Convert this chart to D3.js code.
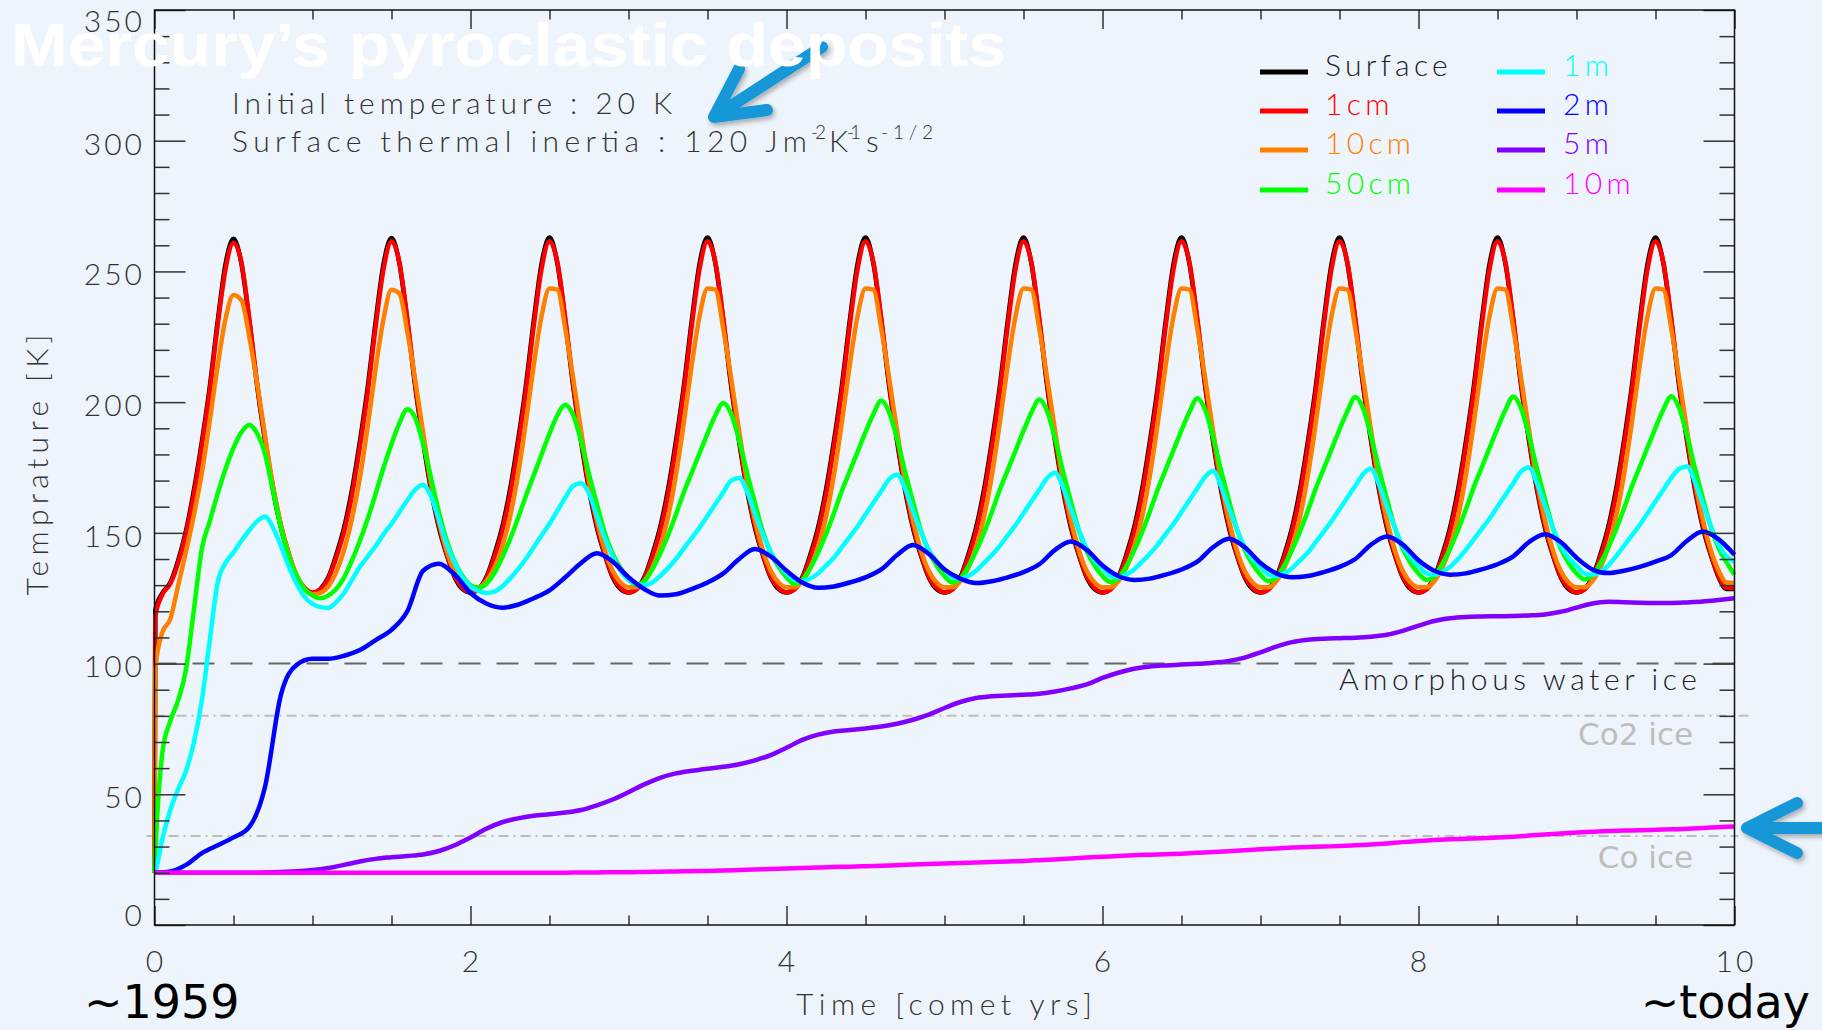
<!DOCTYPE html>
<html>
<head>
<meta charset="utf-8">
<script src="https://cdn.jsdelivr.net/npm/d3@7"></script>
<style>
html, body { margin: 0; padding: 0; background: #eef4fb; }
svg { display: block; }
.thin { font-family: Lato, "DejaVu Sans", sans-serif; font-weight: 300; }
.sans { font-family: "DejaVu Sans", sans-serif; }
</style>
</head>
<body>
<div id="chart"></div>
<script>
// ---------- DATA ----------
const layerNames = ["Surface", "1cm", "10cm", "50cm", "1m", "2m", "5m", "10m"];
const layerColors = ["#000000", "#ff0000", "#ff8000", "#00ff00", "#00ffff", "#0000ff", "#8000ff", "#ff00ff"];

// sample grids (comet years)
const fastYears = [0, 0.005].concat(d3.range(1, 201).map(i => i / 20));
const slowYears = d3.range(0, 101).map(i => i / 10);

// temperatures [K]
const surfaceK = [20, 120.5,
  127, 131, 139.5, 151, 166.5, 185, 206, 231, 253, 262.5, 253, 231, 206, 185, 166.5, 152, 141.5, 133, 128.5,
  127, 128.5, 133, 141.5, 152, 166.5, 185, 206, 231, 253, 262.8, 253, 231, 206, 185, 166.5, 152, 141.5, 133, 128.5,
  127.2, 128.5, 133, 141.5, 152, 166.5, 185, 206, 231, 253, 263, 253, 231, 206, 185, 166.5, 152, 141.5, 133, 128.5,
  127.2, 128.5, 133, 141.5, 152, 166.5, 185, 206, 231, 253, 263, 253, 231, 206, 185, 166.5, 152, 141.5, 133, 128.5,
  127.2, 128.5, 133, 141.5, 152, 166.5, 185, 206, 231, 253, 263, 253, 231, 206, 185, 166.5, 152, 141.5, 133, 128.5,
  127.2, 128.5, 133, 141.5, 152, 166.5, 185, 206, 231, 253, 263, 253, 231, 206, 185, 166.5, 152, 141.5, 133, 128.5,
  127.2, 128.5, 133, 141.5, 152, 166.5, 185, 206, 231, 253, 263, 253, 231, 206, 185, 166.5, 152, 141.5, 133, 128.5,
  127.2, 128.5, 133, 141.5, 152, 166.5, 185, 206, 231, 253, 263, 253, 231, 206, 185, 166.5, 152, 141.5, 133, 128.5,
  127.2, 128.5, 133, 141.5, 152, 166.5, 185, 206, 231, 253, 263, 253, 231, 206, 185, 166.5, 152, 141.5, 133, 128.5,
  127.2, 128.5, 133, 141.5, 152, 166.5, 185, 206, 231, 253, 263, 253, 231, 206, 185, 166.5, 152, 141.5, 133, 128.5,
  128.5];

const oneCmK = [20, 118,
  126.5, 130.5, 138.5, 150, 165, 183.5, 204.5, 229.5, 251, 261, 253.5, 232, 207, 186, 167.5, 153, 142, 133.5, 129,
  127.2, 128.3, 132.5, 140.5, 150.5, 164.5, 183, 204, 229, 251, 261.5, 253.5, 232, 207, 186, 167.5, 153, 142, 133.5, 129,
  127.2, 128.3, 132.5, 140.5, 150.5, 164.5, 183, 204, 229, 251, 261.5, 253.5, 232, 207, 186, 167.5, 153, 142, 133.5, 129,
  127.2, 128.3, 132.5, 140.5, 150.5, 164.5, 183, 204, 229, 251, 261.5, 253.5, 232, 207, 186, 167.5, 153, 142, 133.5, 129,
  127.2, 128.3, 132.5, 140.5, 150.5, 164.5, 183, 204, 229, 251, 261.5, 253.5, 232, 207, 186, 167.5, 153, 142, 133.5, 129,
  127.2, 128.3, 132.5, 140.5, 150.5, 164.5, 183, 204, 229, 251, 261.5, 253.5, 232, 207, 186, 167.5, 153, 142, 133.5, 129,
  127.2, 128.3, 132.5, 140.5, 150.5, 164.5, 183, 204, 229, 251, 261.5, 253.5, 232, 207, 186, 167.5, 153, 142, 133.5, 129,
  127.2, 128.3, 132.5, 140.5, 150.5, 164.5, 183, 204, 229, 251, 261.5, 253.5, 232, 207, 186, 167.5, 153, 142, 133.5, 129,
  127.2, 128.3, 132.5, 140.5, 150.5, 164.5, 183, 204, 229, 251, 261.5, 253.5, 232, 207, 186, 167.5, 153, 142, 133.5, 129,
  127.2, 128.3, 132.5, 140.5, 150.5, 164.5, 183, 204, 229, 251, 261.5, 253.5, 232, 207, 186, 167.5, 153, 142, 133.5, 129,
  128.9];

const tenCmK = [20, 98,
  112, 117, 130, 143, 157, 173, 193, 214, 232, 241, 239, 225, 207, 187, 168, 153, 142, 133.5, 128.5,
  126.5, 127, 129.5, 135, 143.5, 155.5, 171, 191, 213, 232, 243, 241.5, 227, 208.5, 188.5, 169.5, 154.5, 143, 135, 130.5,
  129.2, 129.2, 131.5, 136.5, 144.5, 156, 172, 192, 214, 233, 243.5, 243, 228, 209, 189, 170, 155, 143.5, 135.5, 131,
  129.2, 129.2, 131.5, 136.5, 144.5, 156, 172, 192, 214, 233, 243.5, 243, 228, 209, 189, 170, 155, 143.5, 135.5, 131,
  129.2, 129.2, 131.5, 136.5, 144.5, 156, 172, 192, 214, 233, 243.5, 243, 228, 209, 189, 170, 155, 143.5, 135.5, 131,
  129.2, 129.2, 131.5, 136.5, 144.5, 156, 172, 192, 214, 233, 243.5, 243, 228, 209, 189, 170, 155, 143.5, 135.5, 131,
  129.2, 129.2, 131.5, 136.5, 144.5, 156, 172, 192, 214, 233, 243.5, 243, 228, 209, 189, 170, 155, 143.5, 135.5, 131,
  129.2, 129.2, 131.5, 136.5, 144.5, 156, 172, 192, 214, 233, 243.5, 243, 228, 209, 189, 170, 155, 143.5, 135.5, 131,
  129.2, 129.2, 131.5, 136.5, 144.5, 156, 172, 192, 214, 233, 243.5, 243, 228, 209, 189, 170, 155, 143.5, 135.5, 131,
  129.2, 129.2, 131.5, 136.5, 144.5, 156, 172, 192, 214, 233, 243.5, 243, 228, 209, 189, 170, 155, 143.5, 135.5, 131,
  130.8];

const fiftyCmK = [20, 27,
  66, 78, 86, 98, 121, 144, 154.5, 165, 174.5, 182.5, 188.5, 191.3, 188, 180, 166, 152, 141, 133.5, 128.5,
  126, 125, 126, 128.5, 133, 139.5, 147, 155.5, 165, 175, 184, 192, 197.3, 194, 184, 171, 158, 147, 139, 133.5,
  130, 129, 130.5, 134.5, 140.5, 147.5, 155.5, 164, 172, 180, 188, 195, 199, 195, 185, 172.5, 161, 150, 142, 136.5,
  132.5, 130, 131.5, 136, 142, 149, 157, 165.5, 173, 180.5, 188, 195, 199.7, 195.5, 185.5, 173, 161.5, 150.5, 142.5, 137,
  133, 130.5, 132, 136.5, 142.5, 149.5, 157.5, 166, 173.5, 181, 188.5, 195.5, 200.6, 196, 186, 173.5, 162, 151, 143, 137.5,
  133.5, 131, 132.5, 137, 143, 150, 158, 166.5, 174, 181.5, 189, 196, 201, 196.5, 186, 173.5, 162, 151, 143, 137.5,
  133.5, 131.2, 132.7, 137.2, 143.2, 150.2, 158.2, 166.7, 174.2, 181.7, 189.2, 196.2, 201.5, 197, 186.5, 174, 162.5, 151.5, 143.5, 138,
  134, 131.5, 133, 137.5, 143.5, 150.5, 158.5, 167, 174.5, 182, 189.5, 196.5, 202, 197.5, 187, 174.5, 163, 152, 144, 138.5,
  134.5, 132, 133.5, 138, 144, 151, 159, 167.5, 175, 182.5, 190, 197, 202.2, 197.5, 187, 174.5, 163, 152, 144, 138.5,
  134.5, 132.2, 133.7, 138.2, 144.2, 151.2, 159.2, 167.7, 175.2, 182.7, 190.2, 197.2, 202.3, 197.7, 187.2, 174.7, 163.2, 152.2, 144.2, 138.7,
  134];

const oneMK = [20, 20.5,
  33, 44, 52, 59, 70, 86, 109, 131, 138.5, 142.5, 147, 151, 154.5, 156.3, 152, 145, 137, 130.5, 125.5,
  122.8, 121.6, 121.3, 123.5, 127, 132, 137, 141, 145, 149.5, 153.5, 158, 162.5, 166.5, 168.3, 164, 155, 145.5, 138.5, 133,
  129.5, 127.8, 127, 127.5, 129.5, 132.5, 136, 140, 144.5, 149, 153.5, 158.5, 163.5, 168, 169, 165, 156.5, 148, 141, 135.5,
  132, 130.5, 130, 131, 133.5, 136.5, 140, 144, 148, 152, 156.5, 161, 165.5, 170, 171, 166, 157.5, 149.5, 142.5, 138,
  134.5, 132, 131.5, 132.5, 134.5, 137.5, 140.5, 144.5, 148.5, 152.5, 157, 161.5, 166, 170.5, 172.2, 167, 158.5, 150.5, 143.5, 139,
  136, 133, 132.5, 133.5, 135.5, 138.5, 141.5, 145, 149, 153, 157.5, 162, 166.5, 171, 173, 167.5, 159, 151, 144, 139.5,
  136.5, 133.5, 133, 134, 136, 139, 142, 145.5, 149.5, 153.5, 158, 162.5, 167, 171.5, 173.8, 168, 159.5, 151.5, 144.5, 140,
  137, 134, 133.5, 134.5, 136.5, 139.5, 142.5, 146.5, 150.5, 154.5, 159, 163.5, 168, 172.5, 174.5, 168.5, 160, 152, 145, 140.5,
  137.5, 134.5, 134, 135, 137, 140, 143.5, 147.5, 151.5, 155.5, 160, 164.5, 169, 173.5, 175, 169, 160.5, 152, 145, 140.5,
  137.5, 134.5, 134, 135, 137.5, 141, 145, 149, 153, 157.5, 162, 166.5, 171, 174.5, 175.4, 169.5, 161, 152.5, 145.5, 141,
  139];

const twoMK = [
  20, 20.5, 23, 27.5, 30.5, 33.5, 37.5, 53, 88, 99.5,
  101.8, 101.8, 103, 105.2, 109, 112.9, 120, 135.5, 138.2, 134,
  127, 123, 121.4, 122.5, 125, 128, 133, 138.5, 142.2, 139,
  133, 128.5, 126, 126.5, 128.5, 131, 134.5, 140, 143.8, 141,
  135.5, 131, 129, 129.5, 131, 133, 136, 141.5, 145.4, 142,
  136, 132.5, 130.8, 131.5, 133, 135, 138, 143.5, 146.7, 143.5,
  137.5, 133.5, 132, 132.5, 134, 136, 139, 144.5, 147.7, 144.5,
  138.5, 134.5, 133, 133.5, 135, 137, 140, 145.5, 148.6, 145.5,
  139.5, 135.5, 134, 134.5, 136, 138, 141, 146.5, 149.5, 146.5,
  140.5, 136, 134.6, 135.5, 137, 139, 141.5, 147, 150.5, 147.5,
  141.6];

const fiveMK = [
  20, 20, 20, 20, 20, 20, 20, 20.1, 20.3, 20.6,
  21, 21.8, 23, 24.3, 25.3, 25.9, 26.4, 27, 28.3, 30.5,
  33.5, 36.8, 39.3, 40.8, 41.8, 42.4, 43, 44, 45.8, 48,
  50.8, 53.8, 56.3, 58, 59, 59.8, 60.5, 61.5, 63, 65,
  67.8, 70.8, 72.8, 74, 74.6, 75.2, 75.9, 77, 78.5, 80.5,
  83, 85.3, 86.8, 87.5, 87.8, 88.1, 88.5, 89.3, 90.5, 92,
  94.5, 96.5, 98, 98.9, 99.3, 99.6, 99.9, 100.3, 101, 102.3,
  104.3, 106.5, 108.2, 109.1, 109.5, 109.7, 109.9, 110.3, 111, 112.5,
  114.5, 116.3, 117.3, 117.8, 118, 118.1, 118.2, 118.4, 118.8, 119.8,
  121.4, 123, 123.6, 123.5, 123.3, 123.2, 123.2, 123.4, 123.7, 124.3,
  125];

const tenMK = [
  20, 20, 20, 20, 20, 20, 20, 20, 20, 20,
  20, 20, 20, 20, 20, 20, 20, 20, 20, 20,
  20, 20, 20, 20, 20, 20, 20, 20.1, 20.1, 20.2,
  20.2, 20.3, 20.4, 20.5, 20.6, 20.7, 20.8, 21, 21.2, 21.4,
  21.6, 21.8, 22, 22.2, 22.3, 22.5, 22.7, 22.9, 23.1, 23.3,
  23.5, 23.7, 23.9, 24.1, 24.3, 24.5, 24.8, 25.1, 25.4, 25.8,
  26.1, 26.4, 26.7, 26.9, 27.1, 27.3, 27.6, 27.9, 28.2, 28.6,
  29, 29.3, 29.6, 29.8, 30, 30.2, 30.5, 30.8, 31.2, 31.7,
  32.1, 32.5, 32.8, 33, 33.2, 33.5, 33.8, 34.2, 34.6, 35,
  35.4, 35.7, 36, 36.1, 36.2, 36.4, 36.6, 36.8, 37.1, 37.4,
  37.7];

const iceLevels = [100, 80, 34];
const iceLabels = ["Amorphous water ice", "Co2 ice", "Co ice"];

const yMajorTicks = [0, 50, 100, 150, 200, 250, 300, 350];
const xMajorTicks = [0, 2, 4, 6, 8, 10];

// ---------- LAYOUT ----------
const width = 1822;
const height = 1030;
const plot = { left: 154.5, right: 1734.5, top: 10, bottom: 925 };

const svg = d3
  .select("#chart")
  .append("svg")
  .attr("width", width)
  .attr("height", height);

svg.append("rect").attr("width", width).attr("height", height).attr("fill", "#eef4fb");

const defs = svg.append("defs");
defs
  .append("filter")
  .attr("id", "shadow")
  .attr("x", "-20%").attr("y", "-20%").attr("width", "140%").attr("height", "140%")
  .append("feDropShadow")
  .attr("dx", 2).attr("dy", 3).attr("stdDeviation", 2.5)
  .attr("flood-color", "#000").attr("flood-opacity", 0.3);

const x = d3.scaleLinear().domain([0, 10]).range([plot.left, plot.right]);
const y = d3.scaleLinear().domain([0, 350]).range([plot.bottom, plot.top]);

// ---------- ICE LINES ----------
const iceG = svg.append("g");
const iceStyle = [
  { stroke: "#666", dash: "22,16", x0: 0, x1: 0 },
  { stroke: "#bdbdbd", dash: "10,5,2,5", x0: 0, x1: 18 },
  { stroke: "#bdbdbd", dash: "10,5,2,5", x0: -8, x1: 4 },
];
iceLevels.forEach((lvl, i) => {
  iceG
    .append("line")
    .attr("x1", x(0) + iceStyle[i].x0)
    .attr("x2", x(10) + iceStyle[i].x1)
    .attr("y1", y(lvl))
    .attr("y2", y(lvl))
    .attr("stroke", iceStyle[i].stroke)
    .attr("stroke-width", 2)
    .attr("stroke-dasharray", iceStyle[i].dash);
});

// ---------- SERIES ----------
const series = [
  { years: fastYears, temps: surfaceK },
  { years: fastYears, temps: oneCmK },
  { years: fastYears, temps: tenCmK },
  { years: fastYears, temps: fiftyCmK },
  { years: fastYears, temps: oneMK },
  { years: slowYears, temps: twoMK },
  { years: slowYears, temps: fiveMK },
  { years: slowYears, temps: tenMK },
];

const line = d3
  .line()
  .x((d) => x(d[0]))
  .y((d) => y(d[1]))
  .curve(d3.curveMonotoneX);

svg
  .append("g")
  .selectAll("path")
  .data(series)
  .join("path")
  .attr("d", (s) => line(s.years.map((t, i) => [t, s.temps[i]])))
  .attr("fill", "none")
  .attr("stroke", (s, i) => layerColors[i])
  .attr("stroke-width", 4.5)
  .attr("stroke-linejoin", "round");

// ---------- AXES ----------
function styleAxis(g) {
  g.select(".domain").remove();
  g.selectAll(".tick line").attr("stroke", "#333").attr("stroke-width", 1.5);
}
const yMinor = d3.range(0, 351, 10).filter((v) => v % 50 !== 0);
const xMinor = d3.range(0, 10.01, 0.5).filter((v) => v % 2 !== 0);

svg.append("g").attr("transform", `translate(${plot.left},0)`)
  .call(d3.axisLeft(y).tickValues(yMinor).tickSize(-15).tickFormat("")).call(styleAxis);
svg.append("g").attr("transform", `translate(${plot.left},0)`)
  .call(d3.axisLeft(y).tickValues(yMajorTicks).tickSize(-31).tickFormat("")).call(styleAxis);
svg.append("g").attr("transform", `translate(${plot.right},0)`)
  .call(d3.axisRight(y).tickValues(yMinor).tickSize(-15).tickFormat("")).call(styleAxis);
svg.append("g").attr("transform", `translate(${plot.right},0)`)
  .call(d3.axisRight(y).tickValues(yMajorTicks).tickSize(-31).tickFormat("")).call(styleAxis);
svg.append("g").attr("transform", `translate(0,${plot.bottom})`)
  .call(d3.axisBottom(x).tickValues(xMinor).tickSize(-9.5).tickFormat("")).call(styleAxis);
svg.append("g").attr("transform", `translate(0,${plot.bottom})`)
  .call(d3.axisBottom(x).tickValues(xMajorTicks).tickSize(-19).tickFormat("")).call(styleAxis);
svg.append("g").attr("transform", `translate(0,${plot.top})`)
  .call(d3.axisTop(x).tickValues(xMinor).tickSize(-9.5).tickFormat("")).call(styleAxis);
svg.append("g").attr("transform", `translate(0,${plot.top})`)
  .call(d3.axisTop(x).tickValues(xMajorTicks).tickSize(-19).tickFormat("")).call(styleAxis);

svg.append("rect")
  .attr("x", plot.left).attr("y", plot.top)
  .attr("width", plot.right - plot.left).attr("height", plot.bottom - plot.top)
  .attr("fill", "none").attr("stroke", "#111").attr("stroke-width", 1.5);

// tick labels
svg.append("g").attr("class", "thin")
  .selectAll("text").data(yMajorTicks).join("text")
  .attr("x", 145)
  .attr("y", (d) => (d === 0 ? 915 : d === 350 ? 21 : y(d) + 3))
  .attr("dy", "0.36em")
  .attr("text-anchor", "end")
  .attr("font-size", 30)
  .attr("letter-spacing", 3)
  .attr("fill", "#333")
  .text((d) => d);

svg.append("g").attr("class", "thin")
  .selectAll("text").data(xMajorTicks).join("text")
  .attr("x", (d) => x(d) + 1.5)
  .attr("y", 972)
  .attr("text-anchor", "middle")
  .attr("font-size", 30)
  .attr("letter-spacing", 3)
  .attr("fill", "#333")
  .text((d) => d);

svg.append("text").attr("class", "thin")
  .attr("x", 944).attr("y", 1015)
  .attr("text-anchor", "middle").attr("font-size", 30).attr("fill", "#333")
  .attr("textLength", 296).attr("lengthAdjust", "spacing")
  .text("Time [comet yrs]");

svg.append("text").attr("class", "thin")
  .attr("transform", "translate(48,465) rotate(-90)")
  .attr("text-anchor", "middle").attr("font-size", 30).attr("fill", "#333")
  .attr("textLength", 261).attr("lengthAdjust", "spacing")
  .text("Temprature [K]");

// ice labels
svg.append("text").attr("class", "thin")
  .attr("x", 1697).attr("y", 690).attr("text-anchor", "end")
  .attr("font-size", 30).attr("fill", "#222")
  .attr("textLength", 358).attr("lengthAdjust", "spacing")
  .text(iceLabels[0]);
svg.append("text").attr("class", "sans")
  .attr("x", 1693).attr("y", 745).attr("text-anchor", "end")
  .attr("font-size", 31).attr("fill", "#bdbdbd")
  .text(iceLabels[1]);
svg.append("text").attr("class", "sans")
  .attr("x", 1693).attr("y", 868).attr("text-anchor", "end")
  .attr("font-size", 31).attr("fill", "#bdbdbd")
  .text(iceLabels[2]);

// ---------- ANNOTATIONS ----------
const noteG = svg.append("g").attr("class", "thin").attr("fill", "#333");
noteG.append("text")
  .attr("x", 232).attr("y", 114).attr("font-size", 30)
  .attr("textLength", 440).attr("lengthAdjust", "spacing")
  .text("Initial temperature : 20 K");

// "Surface thermal inertia : 120 Jm^-2 K^-1 s^-1/2"
const inertiaParts = [
  { text: "Surface thermal inertia : 120 Jm", x: 232, len: 575, sup: false },
  { text: "-2", x: 811, len: 15, sup: true },
  { text: "K", x: 829, len: 16, sup: false },
  { text: "-1", x: 847, len: 14, sup: true },
  { text: "s", x: 866, len: 11, sup: false },
  { text: "-1/2", x: 881, len: 52, sup: true },
];
inertiaParts.forEach((p) => {
  noteG.append("text")
    .attr("x", p.x)
    .attr("y", p.sup ? 139 : 152)
    .attr("font-size", p.sup ? 19 : 30)
    .attr("textLength", p.len).attr("lengthAdjust", "spacing")
    .text(p.text);
});

// ---------- LEGEND ----------
const legendRows = [72, 111, 150, 190];
const legendCols = [{ lx: 1260, tx: 1325 }, { lx: 1497, tx: 1563 }];
const legend = svg.append("g").attr("class", "thin");
layerNames.forEach((name, i) => {
  const col = legendCols[Math.floor(i / 4)];
  const ry = legendRows[i % 4];
  legend.append("line")
    .attr("x1", col.lx).attr("x2", col.lx + 48)
    .attr("y1", ry).attr("y2", ry)
    .attr("stroke", layerColors[i]).attr("stroke-width", 5);
  legend.append("text")
    .attr("x", col.tx).attr("y", ry + 4)
    .attr("font-size", 30).attr("letter-spacing", 4.3)
    .attr("fill", i === 0 ? "#222" : layerColors[i])
    .text(name);
});

// ---------- ARROWS ----------
const arrowG = svg.append("g")
  .attr("fill", "none").attr("stroke", "#1497d7")
  .attr("stroke-width", 12).attr("stroke-linecap", "round").attr("stroke-linejoin", "round")
  .attr("filter", "url(#shadow)");
arrowG.append("path").attr("d", "M822,47 L714,117 M739,69 L714,117 L767,110");
arrowG.append("path").attr("d", "M1830,828 L1747,828 M1797,803 L1747,828 L1797,853");

// ---------- TITLE & ERA LABELS ----------
svg.append("text")
  .attr("x", 11).attr("y", 66)
  .attr("font-family", "'Liberation Sans', Arial, sans-serif")
  .attr("font-weight", "bold").attr("font-size", 61).attr("fill", "#ffffff")
  .attr("textLength", 995).attr("lengthAdjust", "spacingAndGlyphs")
  .text("Mercury’s pyroclastic deposits");

svg.append("text").attr("class", "sans")
  .attr("x", 84).attr("y", 1018).attr("font-size", 46).attr("fill", "#000")
  .text("~1959");
svg.append("text").attr("class", "sans")
  .attr("x", 1810).attr("y", 1018).attr("text-anchor", "end")
  .attr("font-size", 46).attr("fill", "#000")
  .text("~today");
</script>
</body>
</html>
